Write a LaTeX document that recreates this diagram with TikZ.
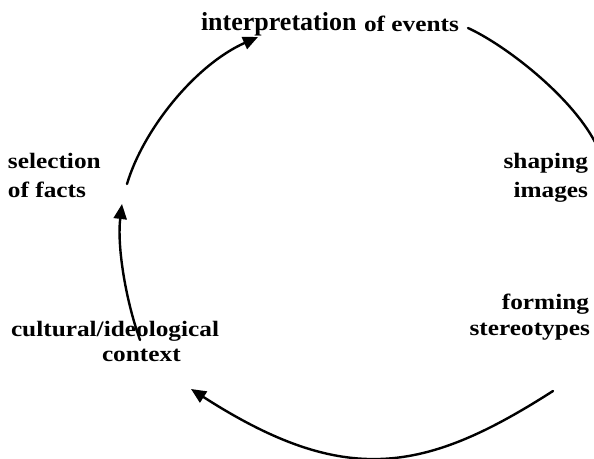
\documentclass[tikz,border=0pt]{standalone}
\usepackage{fontspec}
\setmainfont{Liberation Serif}
\newfontfamily\labfont[FakeStretch=1.15]{Liberation Serif}
\usetikzlibrary{arrows.meta}
\tikzset{
  lab/.style={inner sep=0pt, outer sep=0pt, font=\labfont\bfseries\fontsize{22}{26}\selectfont},
  big/.style={inner sep=0pt, outer sep=0pt, font=\bfseries\fontsize{26}{30}\selectfont},
  arc/.style={line width=2.4pt, line cap=round},
  tip/.style={-{Triangle[length=15pt,width=13pt]}}
}
\begin{document}
\begin{tikzpicture}[x=1pt,y=-1pt]
\useasboundingbox (0,0) rectangle (594,458);
\clip (0,0) rectangle (594,458);
% labels
\node[big, anchor=base west] (interp) at (201,30) {interpretation};
\node[lab, anchor=base west] (events) at (364,31) {of events};
\node[lab, anchor=base west] (sel) at (8,168) {selection};
\node[lab, anchor=base west] (facts) at (8,197) {of facts};
\node[lab, anchor=base east] (shap) at (588,168) {shaping};
\node[lab, anchor=base east] (imag) at (588,197) {images};
\node[lab, anchor=base east] (form) at (589,309) {forming};
\node[lab, anchor=base east] (stereo) at (590,335) {stereotypes};
\node[lab, anchor=base west] (cult) at (11,336) {cultural/ideological};
\node[lab, anchor=base west] (cont) at (102,361) {context};
% arc end points
\coordinate (a1s) at (127,184);
\coordinate (a1e) at (258,37);
\coordinate (a2s) at (468,28);
\coordinate (a2e) at (595,142);
\coordinate (a3s) at (553,391);
\coordinate (a3e) at (191,389);
\coordinate (a4s) at (140,340);
\coordinate (a4e) at (122,204);
% arcs
\draw[arc, tip] (a1s) .. controls (143,130) and (195,65) .. (a1e);
\draw[arc] (a2s) .. controls (505,45) and (570,95) .. (a2e);
\draw[arc, tip] (a3s) .. controls (425,473) and (345,488) .. (a3e);
\draw[arc, tip] (a4s) .. controls (125,298) and (117,245) .. (a4e);
\end{tikzpicture}
\end{document}
